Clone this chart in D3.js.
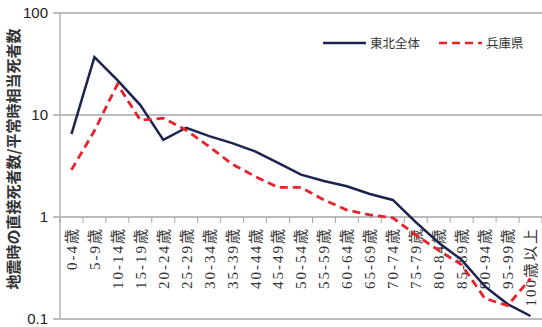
<!DOCTYPE html>
<html>
<head>
<meta charset="utf-8">
<script src="https://cdn.jsdelivr.net/npm/d3@7"></script>
<style>
  body { margin: 0; background: #fff; }
  svg { display: block; }
</style>
</head>
<body>
<div id="chart"></div>
<script>
// age groups on the x axis
const ages = ['0-4歳', '5-9歳', '10-14歳', '15-19歳', '20-24歳', '25-29歳', '30-34歳',
  '35-39歳', '40-44歳', '45-49歳', '50-54歳', '55-59歳', '60-64歳', '65-69歳',
  '70-74歳', '75-79歳', '80-84歳', '85-89歳', '90-94歳', '95-99歳', '100歳以上'];

// ratio of direct quake deaths to normal deaths
const tohoku = [6.5, 37, 22, 12.5, 5.7, 7.5, 6.2, 5.3, 4.4, 3.4, 2.6, 2.25, 2.0, 1.68,
  1.47, 0.89, 0.56, 0.38, 0.21, 0.14, 0.107];
const hyogo = [2.9, 7, 20, 8.9, 9.3, 7.1, 4.9, 3.3, 2.5, 1.95, 1.95, 1.47, 1.17, 1.05,
  0.98, 0.67, 0.47, 0.34, 0.16, 0.135, 0.25];

const yTicks = [0.1, 1, 10, 100];
const seriesNames = ['東北全体', '兵庫県'];

const width = 542;
const height = 327;
const margin = { left: 60, right: 542, top: 13, bottom: 319 };

const svg = d3.select('#chart')
  .append('svg')
  .attr('width', width)
  .attr('height', height);

const x = d3.scaleBand().domain(ages).range([margin.left, margin.right]).padding(0);
const y = d3.scaleLog().domain([0.1, 100]).range([margin.bottom, margin.top]);

// horizontal grid lines
svg.append('g')
  .selectAll('line')
  .data(yTicks)
  .enter()
  .append('line')
  .attr('x1', margin.left - 7)
  .attr('x2', margin.right)
  .attr('y1', d => y(d))
  .attr('y2', d => y(d))
  .attr('stroke', '#a6a6a6')
  .attr('stroke-width', 1.3);

// left axis line
svg.append('line')
  .attr('x1', margin.left).attr('x2', margin.left)
  .attr('y1', margin.top).attr('y2', margin.bottom)
  .attr('stroke', '#b5b5b5')
  .attr('stroke-width', 1.5);

// y tick labels
svg.append('g')
  .selectAll('text')
  .data(yTicks)
  .enter()
  .append('text')
  .attr('x', margin.left - 12)
  .attr('y', d => y(d))
  .attr('dy', '0.36em')
  .attr('text-anchor', 'end')
  .style('font-family', 'Liberation Sans, Arial, sans-serif')
  .style('font-size', '15px')
  .attr('fill', '#222')
  .text(d => d);

// category ticks under the x axis (which sits at 1)
svg.append('g')
  .selectAll('line')
  .data(d3.range(ages.length + 1))
  .enter()
  .append('line')
  .attr('x1', i => margin.left + i * x.bandwidth())
  .attr('x2', i => margin.left + i * x.bandwidth())
  .attr('y1', y(1))
  .attr('y2', y(1) + 6)
  .attr('stroke', '#a6a6a6');

// x labels, rotated
svg.append('g')
  .selectAll('text')
  .data(ages)
  .enter()
  .append('text')
  .attr('transform', d => 'translate(' + (x(d) + x.bandwidth() / 2) + ',' + (y(1) + 10) + ') rotate(-90)')
  .attr('dy', '0.36em')
  .attr('text-anchor', 'end')
  .style('font-family', 'Liberation Serif, Noto Sans CJK JP, serif')
  .style('font-size', '15px')
  .style('letter-spacing', '2px')
  .attr('fill', '#333')
  .text(d => d);

// y axis title
svg.append('text')
  .attr('transform', 'translate(14,159) rotate(-90)')
  .attr('dy', '0.36em')
  .attr('text-anchor', 'middle')
  .style('font-family', 'Noto Sans CJK JP, sans-serif')
  .style('font-size', '15px')
  .style('font-weight', 'bold')
  .attr('fill', '#333')
  .text('地震時の直接死者数/平常時相当死者数');

const line = d3.line()
  .x((d, i) => x(ages[i]) + x.bandwidth() / 2)
  .y(d => y(d));

svg.append('path')
  .datum(tohoku)
  .attr('d', line)
  .attr('fill', 'none')
  .attr('stroke', '#1c2350')
  .attr('stroke-width', 2.5);

svg.append('path')
  .datum(hyogo)
  .attr('d', line)
  .attr('fill', 'none')
  .attr('stroke', '#e8212b')
  .attr('stroke-width', 2.8)
  .attr('stroke-dasharray', '8,5');

// legend
const legend = svg.append('g');
const legendItems = [
  { name: seriesNames[0], color: '#1c2350', dash: null, x: 323 },
  { name: seriesNames[1], color: '#e8212b', dash: '8,5', x: 439 }
];
legendItems.forEach(item => {
  legend.append('line')
    .attr('x1', item.x).attr('x2', item.x + 43)
    .attr('y1', 43).attr('y2', 43)
    .attr('stroke', item.color)
    .attr('stroke-width', 2.6)
    .attr('stroke-dasharray', item.dash);
  legend.append('text')
    .attr('x', item.x + 47)
    .attr('y', 43)
    .attr('dy', '0.36em')
    .style('font-family', 'Noto Sans CJK JP, sans-serif')
    .style('font-size', '12.5px')
    .attr('fill', '#333')
    .text(item.name);
});
</script>
</body>
</html>
